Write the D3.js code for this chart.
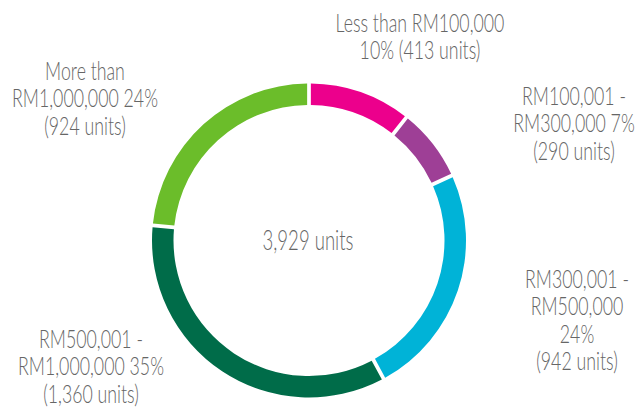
<!DOCTYPE html>
<html>
<head>
<meta charset="utf-8">
<script src="https://cdn.jsdelivr.net/npm/d3@7"></script>
<style>
  html, body { margin: 0; padding: 0; background: #fff; }
  svg { display: block; }
  text { font-family: Lato, "Liberation Sans", sans-serif; font-weight: 300; fill: #666666; }
</style>
</head>
<body>
<script>
// ---- Data ----
const categories = ["Less than RM100,000", "RM100,001 - RM300,000", "RM300,001 - RM500,000", "RM500,001 - RM1,000,000", "More than RM1,000,000"];
const units = [413, 290, 942, 1360, 924];
const percents = ["10%", "7%", "24%", "35%", "24%"];
const unitLabels = ["413 units", "290 units", "942 units", "1,360 units", "924 units"];
const totalLabel = "3,929 units";
const colors = ["#EC008C", "#9E3F96", "#00B3D7", "#006C49", "#6BBD2A"];
// label lines as they wrap in the original
const labelLines = [
  ["Less than RM100,000", "10% (413 units)"],
  ["RM100,001 -", "RM300,000 7%", "(290 units)"],
  ["RM300,001 -", "RM500,000", "24%", "(942 units)"],
  ["RM500,001 -", "RM1,000,000 35%", "(1,360 units)"],
  ["More than", "RM1,000,000 24%", "(924 units)"]
];

// ---- Layout ----
const W = 640, H = 410;
const cx = 309, cy = 240.5, rOuter = 157, rInner = 135.5;
const labelAnchors = [
  {x: 420, y: 32},
  {x: 574, y: 105},
  {x: 577, y: 288},
  {x: 91, y: 348},
  {x: 85, y: 80}
];
const lineH = 27.5;
const fontSize = 25;

const svg = d3.select("body").append("svg").attr("width", W).attr("height", H);

const pie = d3.pie().sort(null).value(d => d).padAngle(0.018);
const arc = d3.arc().innerRadius(rInner).outerRadius(rOuter);

const g = svg.append("g").attr("transform", `translate(${cx},${cy})`);
g.selectAll("path").data(pie(units)).join("path")
  .attr("d", arc)
  .attr("fill", (d, i) => colors[i]);

// measure to get horizontal condensing factor (reference font is condensed)
const probe = svg.append("text").attr("font-size", fontSize).text("RM1,000,000 24%");
const sx = 146 / probe.node().getComputedTextLength();
probe.remove();

const ct = svg.append("text")
  .attr("text-anchor", "middle")
  .attr("font-size", 27)
  .text(totalLabel);
const csx = 91 / ct.node().getComputedTextLength();
ct.attr("transform", `translate(${cx - 1},${cy + 9}) scale(${csx},1)`);

labelLines.forEach((lines, i) => {
  const a = labelAnchors[i];
  const t = svg.append("text")
    .attr("transform", `translate(${a.x},${a.y}) scale(${sx},1)`)
    .attr("text-anchor", "middle")
    .attr("font-size", fontSize);
  lines.forEach((ln, j) => {
    t.append("tspan").attr("x", 0).attr("y", j * lineH).text(ln);
  });
});
</script>
</body>
</html>
